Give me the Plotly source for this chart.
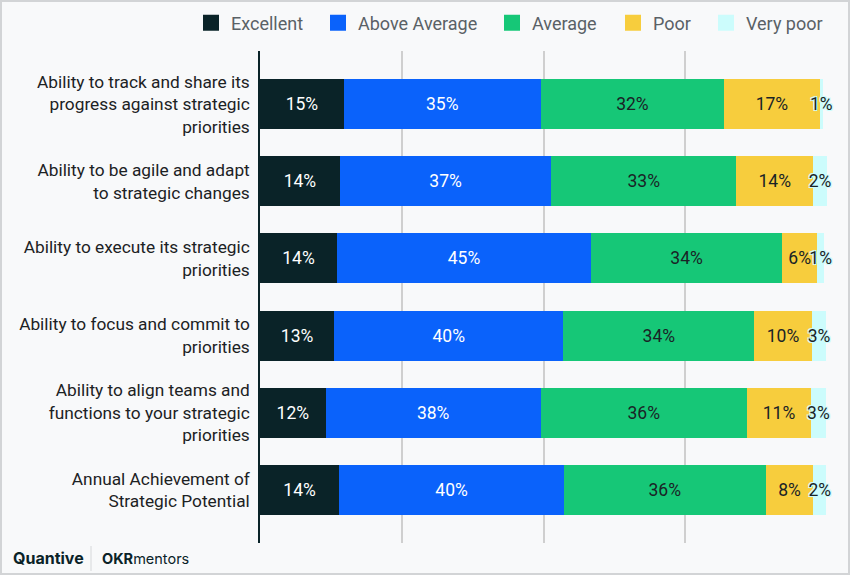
import plotly.graph_objects as go

categories = [
    "Ability to track and share its<br>progress against strategic<br>priorities",
    "Ability to be agile and adapt<br>to strategic changes",
    "Ability to execute its strategic<br>priorities",
    "Ability to focus and commit to<br>priorities",
    "Ability to align teams and<br>functions to your strategic<br>priorities",
    "Annual Achievement of<br>Strategic Potential",
]
series_names = ["Excellent", "Above Average", "Average", "Poor", "Very poor"]
excellent = [14.8, 14.1, 13.6, 13.1, 11.6, 14.0]
above_average = [34.7, 37.3, 44.8, 40.4, 37.9, 39.6]
average = [32.4, 32.6, 33.7, 33.7, 36.4, 35.6]
poor = [16.8, 13.6, 6.2, 10.1, 11.3, 8.4]
very_poor = [0.6, 2.4, 1.2, 2.6, 2.6, 2.3]

series_values = [excellent, above_average, average, poor, very_poor]
colors = ["#0a2328", "#0a62fb", "#16c777", "#f7cd3d", "#ccfcfc"]
text_colors = ["#ffffff", "#ffffff", "#1a2326", "#1a2326", "#1a2326"]
legend_left_px = [203, 330, 504, 625, 718]

W, H = 850, 575
ML, MR, MT, MB = 260, 23, 51, 32
PW, PH = W - ML - MR, H - MT - MB


def px_x(px):
    return (px - ML) / PW


def px_y(py):
    return 1 - (py - MT) / PH


FONT = "Roboto"
HALO = ("1px 1px 0 #ccfcfc, -1px -1px 0 #ccfcfc, 1px -1px 0 #ccfcfc, "
        "-1px 1px 0 #ccfcfc, 0 0 2px #ccfcfc")
fig = go.Figure()

legend_layouts = {}
for i, (name, vals, col, tcol) in enumerate(zip(series_names, series_values, colors, text_colors)):
    is_vp = name == "Very poor"
    fig.add_trace(go.Bar(
        y=categories, x=vals, name=name, orientation="h",
        marker=dict(color=col, line=dict(width=0)),
        texttemplate="%{x:.0f}%", textposition="inside",
        insidetextanchor="middle", textangle=0,
        constraintext="none",
        cliponaxis=False,
        insidetextfont=dict(family=FONT, size=17.5, color=tcol,
                            shadow=(HALO if is_vp else "none")),
        width=0.648, showlegend=False, hoverinfo="x+name",
    ))
    lg = "legend" if i == 0 else f"legend{i + 1}"
    fig.add_trace(go.Scatter(
        x=[None], y=[None], mode="markers", name=name, legend=lg,
        marker=dict(symbol="square", size=17, color=col),
        showlegend=True, hoverinfo="skip",
    ))
    legend_layouts[lg] = dict(
        orientation="h", xref="container", yref="container",
        x=(legend_left_px[i] - 12) / W, xanchor="left",
        y=1 - 23 / H, yanchor="middle",
        font=dict(family=FONT, size=18, color="#5a6166"),
        bgcolor="rgba(0,0,0,0)", borderwidth=0,
    )

fig.update_layout(
    width=W, height=H,
    barmode="stack",
    paper_bgcolor="#f8f9fa", plot_bgcolor="#f8f9fa",
    margin=dict(l=ML, r=MR, t=MT, b=MB, pad=0, autoexpand=False),
    font=dict(family=FONT, size=17.5, color="#1c2224"),
    xaxis=dict(
        range=[0, 100], dtick=25, showgrid=True, gridcolor="#cfcfcf", gridwidth=1.5,
        showticklabels=False, zeroline=False, showline=False, ticks="",
        fixedrange=True,
    ),
    yaxis=dict(
        range=[5.69, -0.69], showline=True, linecolor="#0a2328", linewidth=1.5,
        ticks="", ticklabelstandoff=5, showgrid=False, zeroline=False,
        tickfont=dict(family=FONT, size=17.3, color="#1c2224"),
    ),
    shapes=[
        dict(type="rect", xref="paper", yref="paper",
             x0=px_x(1), x1=px_x(W - 1), y0=px_y(H - 1), y1=px_y(1),
             line=dict(color="#d2d4d6", width=2), fillcolor="rgba(0,0,0,0)", layer="above"),
        dict(type="line", xref="paper", yref="paper",
             x0=px_x(91), x1=px_x(91), y0=px_y(546), y1=px_y(571),
             line=dict(color="#d6d8da", width=1)),
    ],
    annotations=[
        dict(text="<b>Quantive</b>", xref="paper", yref="paper",
             x=px_x(11), y=px_y(558), xanchor="left", yanchor="middle", showarrow=False,
             font=dict(family="Inter", size=16, color="#0a2328")),
        dict(text="<b>OKR</b>mentors", xref="paper", yref="paper",
             x=px_x(100), y=px_y(558), xanchor="left", yanchor="middle", showarrow=False,
             font=dict(family="Inter", size=14.5, color="#0a2328")),
    ],
    **legend_layouts,
)

fig.write_html("out.html")
